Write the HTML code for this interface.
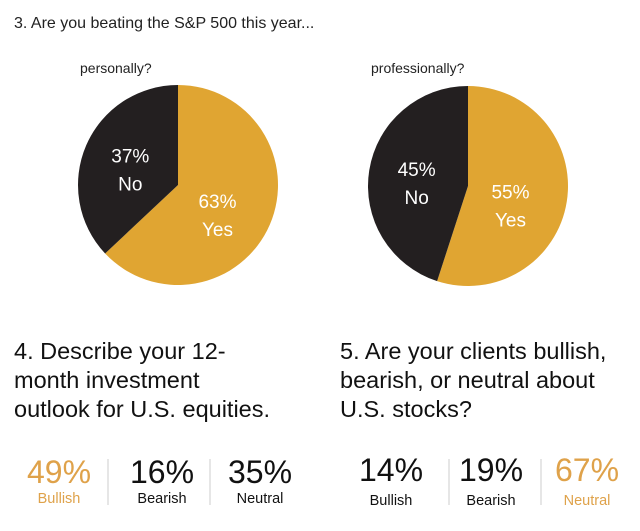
<!DOCTYPE html>
<html><head><meta charset="utf-8">
<style>
html,body{margin:0;padding:0;background:#fff;}
body{width:640px;height:526px;overflow:hidden;font-family:"Liberation Sans",sans-serif;}
svg text{font-family:"Liberation Sans",sans-serif;}
</style></head>
<body>
<svg id="chart" width="640" height="526" viewBox="0 0 640 526">
<text x="14" y="28" font-size="16" fill="#222">3. Are you beating the S&amp;P 500 this year...</text>
<text x="80" y="73" font-size="14" fill="#222">personally?</text>
<text x="371" y="73" font-size="14" fill="#222">professionally?</text>
<g id="pies"></g>
<text x="14" y="359" font-size="23.5" fill="#111">4. Describe your 12-</text>
<text x="14" y="388" font-size="23.5" fill="#111">month investment</text>
<text x="14" y="417" font-size="23.5" fill="#111">outlook for U.S. equities.</text>
<text x="340" y="359" font-size="23.5" fill="#111">5. Are your clients bullish,</text>
<text x="340" y="388" font-size="23.5" fill="#111">bearish, or neutral about</text>
<text x="340" y="417" font-size="23.5" fill="#111">U.S. stocks?</text>
<g id="stats"></g>
</svg>
<script>
const pieTitles = ['personally', 'professionally'];
const noValues = [37, 45];
const yesValues = [63, 55];
const q4Labels = ['Bullish', 'Bearish', 'Neutral'];
const q4Values = [49, 16, 35];
const q5Labels = ['Bullish', 'Bearish', 'Neutral'];
const q5Values = [14, 19, 67];

const NS = 'http://www.w3.org/2000/svg';
const GOLD = '#E0A532', DARK = '#231F20';
function mk(tag, attrs, parent) {
  const e = document.createElementNS(NS, tag);
  for (const k in attrs) e.setAttribute(k, attrs[k]);
  parent.appendChild(e);
  return e;
}
const centers = [[178, 185], [468, 186]];
const R = 100;
const pies = document.getElementById('pies');
function pt(cx, cy, frac) {
  const a = frac * 2 * Math.PI;
  return [cx + R * Math.sin(a), cy - R * Math.cos(a)];
}
function arc(cx, cy, f0, f1) {
  const [x0, y0] = pt(cx, cy, f0), [x1, y1] = pt(cx, cy, f1);
  const large = (f1 - f0) > 0.5 ? 1 : 0;
  return `M${cx},${cy} L${x0},${y0} A${R},${R} 0 ${large} 1 ${x1},${y1} Z`;
}
pieTitles.forEach((t, i) => {
  const [cx, cy] = centers[i];
  const tot = noValues[i] + yesValues[i];
  const yf = yesValues[i] / tot;
  const ys = mk('path', {d: arc(cx, cy, 0, yf), fill: GOLD}, pies);
  
  
  const ns = mk('path', {d: arc(cx, cy, yf, 1), fill: DARK}, pies);
  
  
  const ym = yf / 2 * 2 * Math.PI, nm = (yf + 1) / 2 * 2 * Math.PI;
  const yx = cx + R * 0.43 * Math.sin(ym), yy = cy - R * 0.43 * Math.cos(ym) + 12;
  const nx = cx + R * 0.52 * Math.sin(nm), ny = cy - R * 0.52 * Math.cos(nm) + 4;
  const labs = [[yx, yy, yesValues[i] + '%', 'Yes', 'yes'], [nx, ny, noValues[i] + '%', 'No', 'no']];
  labs.forEach(l => {
    const a = mk('text', {x: l[0], y: l[1] - 6, 'font-size': 19, fill: '#fff', 'text-anchor': 'middle'}, pies);
    a.textContent = l[2];
    
    
    const b = mk('text', {x: l[0], y: l[1] + 22, 'font-size': 19, fill: '#fff', 'text-anchor': 'middle'}, pies);
    b.textContent = l[3];
    
    
  });
});

const stats = document.getElementById('stats');
function drawStats(labels, values, xs, ys, key, divXs) {
  const mx = Math.max(...values);
  labels.forEach((lab, i) => {
    const col = values[i] === mx ? '#DFA24A' : '#111';
    const v = mk('text', {x: xs[i], y: ys[0], 'font-size': 32, fill: col, 'text-anchor': 'middle'}, stats);
    v.textContent = values[i] + '%';
    
    
    const l = mk('text', {x: xs[i], y: ys[1], 'font-size': 14.5, fill: col, 'text-anchor': 'middle'}, stats);
    l.textContent = lab;
    
    
  });
  divXs.forEach(dx => {
    const d = mk('line', {x1: dx, y1: 459, x2: dx, y2: 505, stroke: '#ccc', 'stroke-width': 1}, stats);
    
    
  });
}
drawStats(q4Labels, q4Values, [59, 162, 260], [483, 503], 'q4', [108, 210]);
drawStats(q5Labels, q5Values, [391, 491, 587], [481, 505], 'q5', [449, 541]);
</script>
</body></html>
